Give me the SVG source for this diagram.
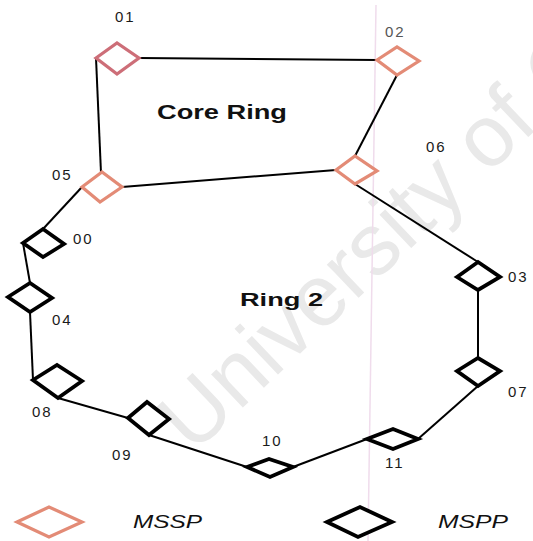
<svg xmlns="http://www.w3.org/2000/svg" width="533" height="541" viewBox="0 0 533 541">
<style>
.mssp{fill:#fff;stroke:#E38B76;stroke-width:3.2;stroke-linejoin:miter}
.mspp{fill:#fff;stroke:#000;stroke-width:3.8;stroke-linejoin:miter}
.lbl{font-family:"Liberation Sans",Arial,sans-serif;font-size:15px;fill:#1a1a1a;letter-spacing:2px}
.title{font-family:"Liberation Sans",Arial,sans-serif;font-weight:bold;fill:#111}
.leg{font-family:"Liberation Sans",Arial,sans-serif;font-style:italic;font-size:18px;fill:#111}
#connectors line{stroke:#000;stroke-width:2}
</style>
<rect width="533" height="541" fill="#fff"/>
<g id="background">
<text x="193" y="455" transform="rotate(-43.5 193 455)" font-family="Liberation Sans, Arial, sans-serif" font-size="87" fill="#e9e9e9">University of C</text>
<line x1="376" y1="5" x2="368" y2="541" stroke="#f0dcec" stroke-width="1.5"/>
</g>
<g id="connectors">
<line x1="139" y1="58" x2="377" y2="60"/>
<line x1="96" y1="58" x2="101" y2="173"/>
<line x1="397" y1="75" x2="355" y2="156"/>
<line x1="122" y1="187" x2="336" y2="170"/>
<line x1="82" y1="187" x2="43" y2="229"/>
<line x1="23" y1="243" x2="30" y2="283"/>
<line x1="30" y1="312" x2="33" y2="380"/>
<line x1="58" y1="398" x2="128" y2="418"/>
<line x1="149" y1="435" x2="247" y2="467"/>
<line x1="293" y1="467" x2="367" y2="439"/>
<line x1="418" y1="439" x2="478" y2="386"/>
<line x1="478" y1="358" x2="478" y2="290"/>
<line x1="478" y1="262" x2="355" y2="184"/>
</g>
<g id="n01"><polygon class="mssp" style="stroke:#CD6E78" points="96,58 117,43 139,58 117,74"/><text class="lbl" x="115" y="22">01</text></g>
<g id="n02"><polygon class="mssp" points="377,60 397,47 419,61 397,75"/><text class="lbl" x="385" y="37" style="fill:#555">02</text></g>
<g id="n06"><polygon class="mssp" points="336,170 355,156 377,171 355,184"/><text class="lbl" x="426" y="152">06</text></g>
<g id="n05"><polygon class="mssp" points="82,187 102,172 122,187 100,202"/><text class="lbl" x="52" y="180">05</text></g>
<g id="n00"><polygon class="mspp" points="23,243 43,229 64,244 43,257"/><text class="lbl" x="73" y="244">00</text></g>
<g id="n04"><polygon class="mspp" points="8,297 30,283 52,298 30,312"/><text class="lbl" x="52" y="325">04</text></g>
<g id="n08"><polygon class="mspp" points="33,380 57,365 82,381 58,398"/><text class="lbl" x="32" y="417">08</text></g>
<g id="n09"><polygon class="mspp" points="128,418 147,402 169,419 149,435"/><text class="lbl" x="112" y="460">09</text></g>
<g id="n10"><polygon class="mspp" points="247,467 269,459 293,467 270,477"/><text class="lbl" x="262" y="446">10</text></g>
<g id="n11"><polygon class="mspp" points="367,439 393,429 418,439 393,449"/><text class="lbl" x="385" y="468">11</text></g>
<g id="n03"><polygon class="mspp" points="457,277 478,262 500,277 478,290"/><text class="lbl" x="508" y="282">03</text></g>
<g id="n07"><polygon class="mspp" points="457,371 478,358 500,371 478,386"/><text class="lbl" x="508" y="397">07</text></g>
<g id="ring-labels">
<text class="title" x="157" y="119" font-size="21" textLength="130" lengthAdjust="spacingAndGlyphs">Core Ring</text>
<text class="title" x="240" y="306" font-size="19" textLength="83" lengthAdjust="spacingAndGlyphs">Ring 2</text>
</g>
<g id="legend">
<polygon class="mssp" points="17,522 49,507 82,522 49,537"/>
<text class="leg" x="133" y="528" textLength="69" lengthAdjust="spacingAndGlyphs">MSSP</text>
<polygon class="mspp" points="327,522 360,507 392,522 358,537"/>
<text class="leg" x="438" y="528" textLength="70" lengthAdjust="spacingAndGlyphs">MSPP</text>
</g>
</svg>
